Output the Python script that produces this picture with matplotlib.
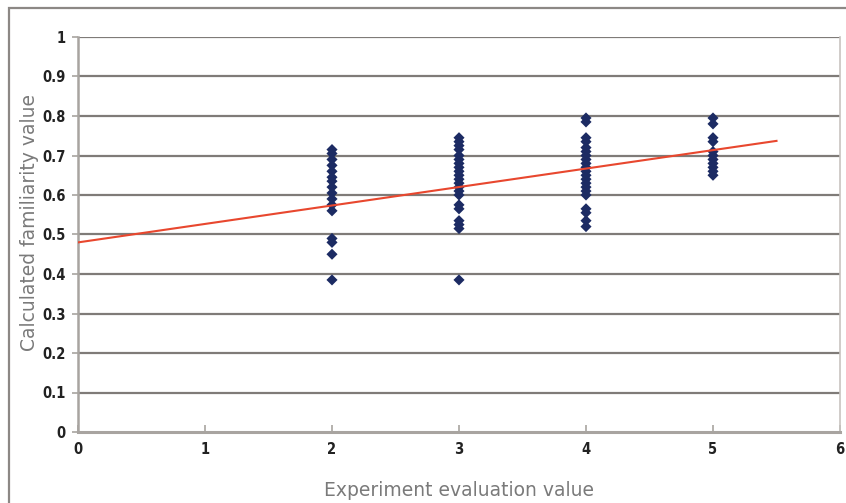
import matplotlib
matplotlib.use('Agg')
import matplotlib.pyplot as plt
import matplotlib.patches as mpatches

# ── Data ────────────────────────────────────────────────────────────────────
eval_2 = [0.715, 0.705, 0.69, 0.675, 0.66, 0.645, 0.635, 0.62, 0.605, 0.59,
          0.575, 0.56, 0.49, 0.48, 0.45, 0.385]
eval_3 = [0.745, 0.735, 0.725, 0.715, 0.70, 0.69, 0.68, 0.67, 0.66, 0.65,
          0.64, 0.63, 0.62, 0.61, 0.60, 0.575, 0.565, 0.535, 0.525, 0.515, 0.385]
eval_4 = [0.795, 0.785, 0.745, 0.735, 0.72, 0.71, 0.70, 0.69, 0.68, 0.67,
          0.66, 0.65, 0.64, 0.63, 0.62, 0.61, 0.60, 0.565, 0.555, 0.535, 0.52]
eval_5 = [0.795, 0.78, 0.745, 0.735, 0.71, 0.70, 0.69, 0.68, 0.67, 0.66, 0.65]
groups = [2, 3, 4, 5]
values = [eval_2, eval_3, eval_4, eval_5]

trend_x = [0, 5.5]
trend_y = [0.48, 0.737]

y_ticks = [0, 0.1, 0.2, 0.3, 0.4, 0.5, 0.6, 0.7, 0.8, 0.9, 1]
y_labels = ['0', '0.1', '0.2', '0.3', '0.4', '0.5', '0.6', '0.7', '0.8', '0.9', '1']
x_ticks = [0, 1, 2, 3, 4, 5, 6]

# ── Style ───────────────────────────────────────────────────────────────────
NAVY = '#1C2B63'
RED = '#E8472E'
GRID = '#7F7B78'
SPINE = '#A8A4A0'
LABEL = '#7A7A7A'

fig = plt.figure(figsize=(8.46, 5.03), dpi=100)
fig.patch.set_facecolor('white')

# outer frame
fig.add_artist(mpatches.Rectangle((9 / 846, -0.05), 1.2, 0.05 + (1 - 8 / 503),
                                  transform=fig.transFigure, fill=False,
                                  edgecolor='#8C8885', linewidth=1.6))

ax = fig.add_axes([78 / 846, 1 - 432 / 503, 762 / 846, 395 / 503])
ax.set_xlim(0, 6)
ax.set_ylim(0, 1)

for yv in y_ticks[1:]:
    ax.axhline(yv, color=GRID, linewidth=1.6, zorder=1)

for g, vals in zip(groups, values):
    ax.scatter([g] * len(vals), vals, marker='D', s=32, color=NAVY,
               edgecolors='none', zorder=3)

ax.plot(trend_x, trend_y, color=RED, linewidth=1.5, zorder=4)

ax.spines['top'].set_visible(False)
ax.spines['left'].set_color(SPINE)
ax.spines['left'].set_linewidth(1.8)
ax.spines['bottom'].set_color(SPINE)
ax.spines['bottom'].set_linewidth(2.2)
ax.spines['right'].set_color('#C8C4C0')
ax.spines['right'].set_linewidth(1.2)

ax.set_yticks(y_ticks)
ax.set_yticklabels(y_labels)
ax.set_xticks(x_ticks)
ax.tick_params(axis='y', direction='out', length=4, color=SPINE, width=1.2,
               pad=5, labelsize=10.5, labelcolor='#222222')
ax.tick_params(axis='x', direction='in', length=5, color=SPINE, width=1.2,
               pad=7, labelsize=10.5, labelcolor='#222222')
for lab in ax.get_xticklabels() + ax.get_yticklabels():
    lab.set_family('DejaVu Sans')
    lab.set_fontstretch('condensed')
    lab.set_fontweight('bold')

ax.set_xlabel('Experiment evaluation value', fontsize=13.5, color=LABEL)
ax.set_ylabel('Calculated familiarity value', fontsize=13.5, color=LABEL)
ax.xaxis.set_label_coords(0.5, -0.147)
ax.yaxis.set_label_coords(-0.063, 0.53)
ax.xaxis.label.set_va('center')
ax.yaxis.label.set_va('center')

plt.savefig('out.png', dpi=100, facecolor='white')
